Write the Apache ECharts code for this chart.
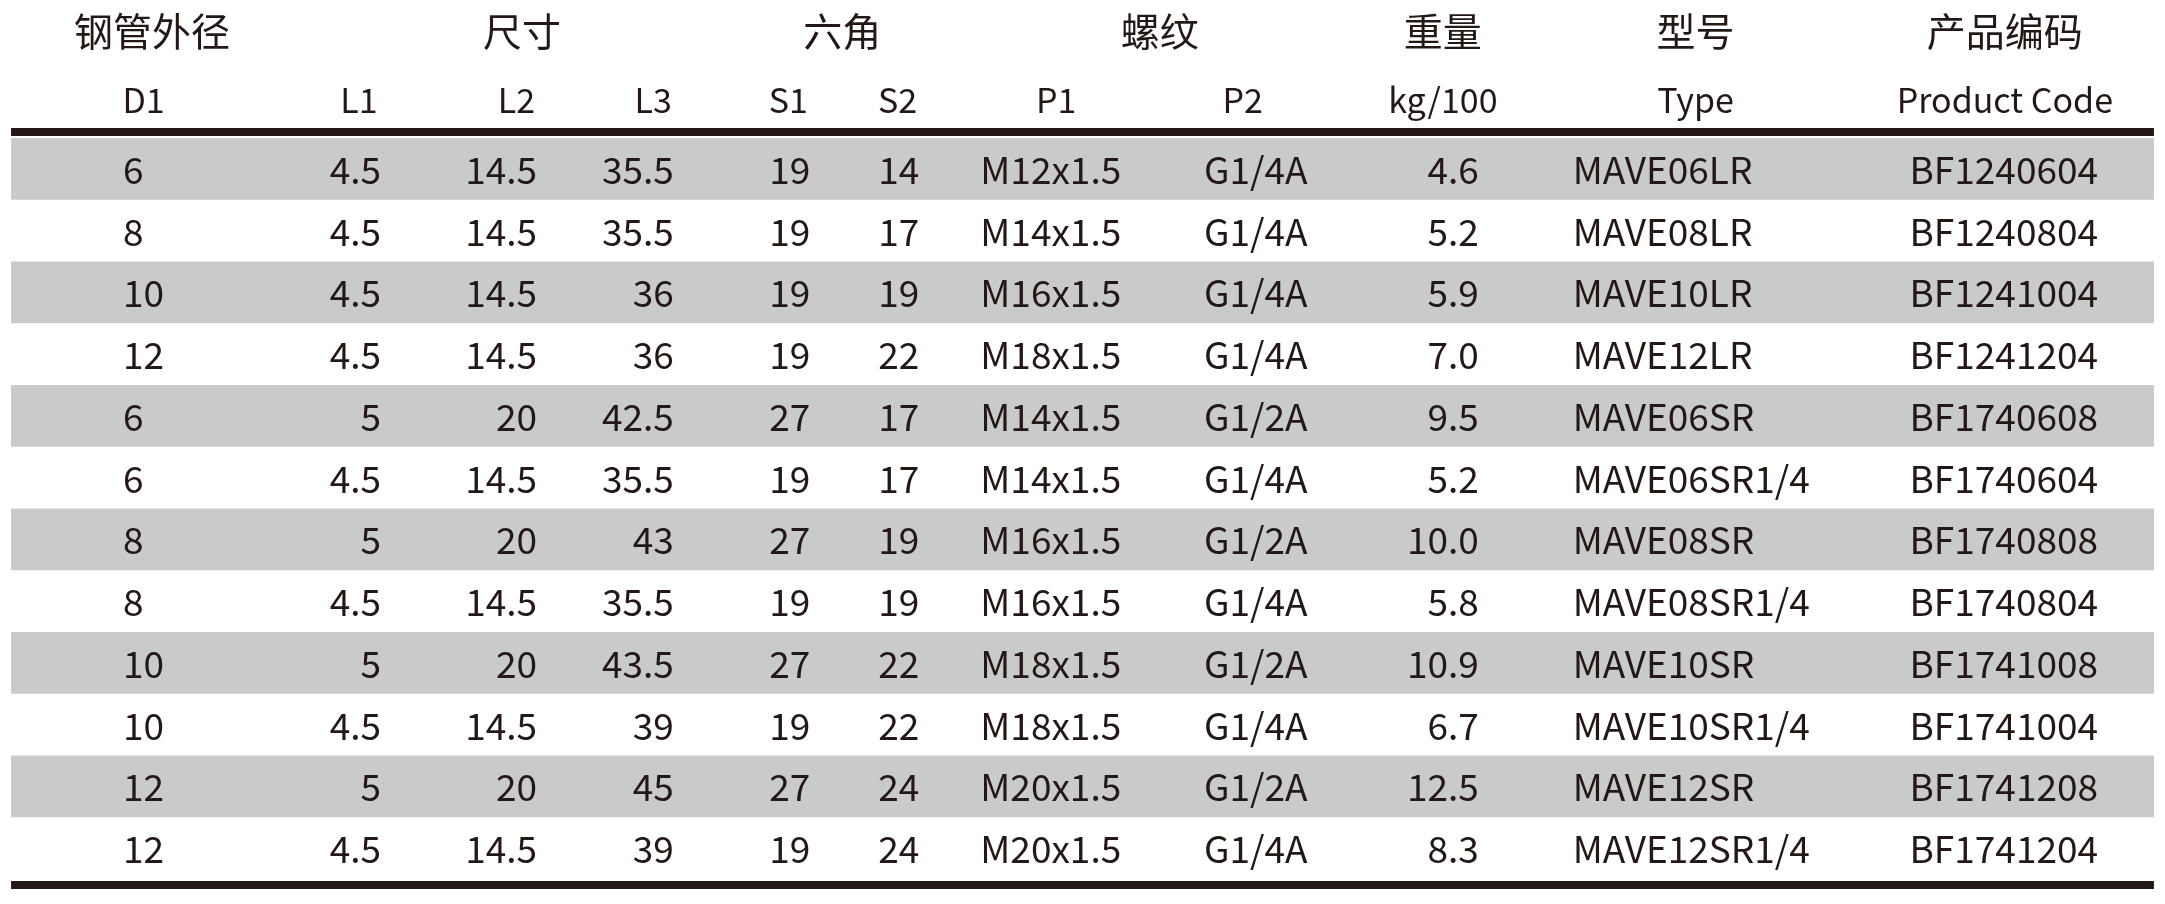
<!DOCTYPE html>
<html><head><meta charset="utf-8">
<script src="https://cdn.jsdelivr.net/npm/echarts@6/dist/echarts.min.js"></script>
<style>html,body{margin:0;padding:0;background:#fff}#c{width:2165px;height:904px}</style>
</head><body><div id="c"></div>
<script>
const headers1 = ['钢管外径','尺寸','六角','螺纹','重量','型号','产品编码'];
const headers2 = ['D1','L1','L2','L3','S1','S2','P1','P2','kg/100','Type','Product Code'];
const D1 = ['6','8','10','12','6','6','8','8','10','10','12','12'];
const L1 = ['4.5','4.5','4.5','4.5','5','4.5','5','4.5','5','4.5','5','4.5'];
const L2 = ['14.5','14.5','14.5','14.5','20','14.5','20','14.5','20','14.5','20','14.5'];
const L3 = ['35.5','35.5','36','36','42.5','35.5','43','35.5','43.5','39','45','39'];
const S1 = ['19','19','19','19','27','19','27','19','27','19','27','19'];
const S2 = ['14','17','19','22','17','17','19','19','22','22','24','24'];
const P1 = ['M12x1.5','M14x1.5','M16x1.5','M18x1.5','M14x1.5','M14x1.5','M16x1.5','M16x1.5','M18x1.5','M18x1.5','M20x1.5','M20x1.5'];
const P2 = ['G1/4A','G1/4A','G1/4A','G1/4A','G1/2A','G1/4A','G1/2A','G1/4A','G1/2A','G1/4A','G1/2A','G1/4A'];
const weight = ['4.6','5.2','5.9','7.0','9.5','5.2','10.0','5.8','10.9','6.7','12.5','8.3'];
const type = ['MAVE06LR','MAVE08LR','MAVE10LR','MAVE12LR','MAVE06SR','MAVE06SR1/4','MAVE08SR','MAVE08SR1/4','MAVE10SR','MAVE10SR1/4','MAVE12SR','MAVE12SR1/4'];
const code = ['BF1240604','BF1240804','BF1241004','BF1241204','BF1740608','BF1740604','BF1740808','BF1740804','BF1741008','BF1741004','BF1741208','BF1741204'];

const S = 2165/1568;
const FONT = '"Noto Sans CJK SC","Noto Sans",sans-serif';
const INK = '#231815';
const cols = [
  [D1, 89, 'left'], [L1, 276, 'right'], [L2, 389, 'right'], [L3, 488, 'right'],
  [S1, 572, 'center'], [S2, 651, 'center'], [P1, 710, 'left'], [P2, 872, 'left'],
  [weight, 1071, 'right'], [type, 1139, 'left'], [code, 1383, 'left']
];
const h1x = [110, 378, 610, 840, 1045, 1228, 1452];
const h2x = [104, 260, 374, 473, 571, 650, 765, 900, 1045, 1228, 1452];
const rows = D1.map((_, i) => i);

const series = [];
series.push({
  type: 'custom', silent: true,
  data: rows.filter(i => i % 2 === 0),
  renderItem: (p, api) => {
    const r = api.value(0);
    const a = api.coord([8, r]), b = api.coord([1560, r]);
    const h = api.size([0, 1])[1];
    return {type: 'rect', shape: {x: a[0], y: a[1] - h/2, width: b[0] - a[0], height: h}, style: {fill: '#c9caca'}};
  }
});
cols.forEach(([vals, x, align]) => {
  series.push({
    type: 'custom', silent: true,
    data: rows.map(i => [x, i, vals[i]]),
    renderItem: (p, api) => {
      const pt = api.coord([api.value(0), api.value(1)]);
      return {type: 'text', x: pt[0], y: pt[1] + 1, style: {text: vals[p.dataIndex], align, verticalAlign: 'middle', fill: INK, font: '37px ' + FONT}};
    }
  });
});

const graphic = [];
h1x.forEach((x, i) => graphic.push({type: 'text', x: x*S, y: 31, style: {text: headers1[i], align: 'center', verticalAlign: 'middle', fill: INK, font: '39px ' + FONT}}));
h2x.forEach((x, i) => graphic.push({type: 'text', x: x*S, y: 100, style: {text: headers2[i], align: 'center', verticalAlign: 'middle', fill: INK, font: '34px ' + FONT}}));
graphic.push({type: 'rect', shape: {x: 8*S, y: 128, width: 1552*S, height: 8}, style: {fill: INK}});
graphic.push({type: 'rect', shape: {x: 8*S, y: 881, width: 1552*S, height: 8}, style: {fill: INK}});

const chart = echarts.init(document.getElementById('c'));
chart.setOption({
  animation: false,
  grid: {left: 0, right: 0, top: 138, height: 741},
  xAxis: {type: 'value', min: 0, max: 1568, show: false},
  yAxis: {type: 'value', min: -0.5, max: 11.5, inverse: true, show: false},
  graphic, series
});
</script></body></html>
